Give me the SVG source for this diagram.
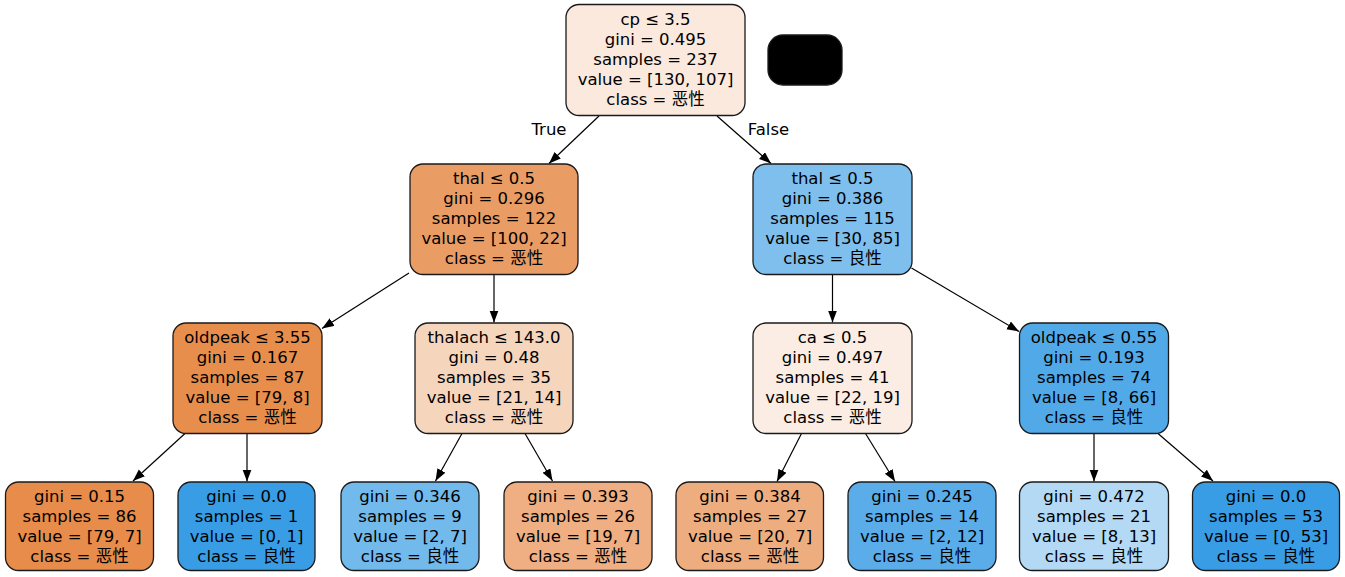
<svg xmlns="http://www.w3.org/2000/svg" width="1345" height="577" viewBox="0 0 1345 577">
<style>
.n rect{stroke:#1a1a1a;stroke-width:1.3}
text{font-family:"DejaVu Sans","Noto Sans CJK SC",sans-serif;font-size:16.5px;fill:#000;text-anchor:middle}
.e line{stroke:#000;stroke-width:1.2;marker-end:url(#ah)}
</style>
<defs>
<marker id="ah" markerUnits="userSpaceOnUse" markerWidth="13" markerHeight="10" refX="12" refY="4.5" orient="auto">
<path d="M0,0 L12,4.5 L0,9 z" fill="#000"/>
</marker>
</defs>
<rect width="1345" height="577" fill="#fff"/>
<g id="connectors" class="e">
<line x1="599" y1="116" x2="549" y2="163.5"/>
<line x1="717" y1="116" x2="771" y2="163.5"/>
<line x1="409" y1="273" x2="322" y2="328.5"/>
<line x1="494" y1="275" x2="494" y2="322.5"/>
<line x1="832.5" y1="275" x2="832.5" y2="322.5"/>
<line x1="911.5" y1="268" x2="1019" y2="331.5"/>
<line x1="185" y1="433.5" x2="133" y2="481"/>
<line x1="247" y1="433.5" x2="247" y2="481.5"/>
<line x1="462" y1="433.5" x2="435.5" y2="481"/>
<line x1="525" y1="433.5" x2="552.5" y2="481"/>
<line x1="801.5" y1="433.5" x2="777" y2="481.5"/>
<line x1="865.5" y1="433.5" x2="895" y2="481.5"/>
<line x1="1094" y1="433.5" x2="1094" y2="481.5"/>
<line x1="1158" y1="433.5" x2="1213" y2="481"/>
<text x="549" y="135">True</text>
<text x="768.5" y="135">False</text>
</g>
<g id="root" class="n">
<rect x="566" y="4.5" width="179" height="111" rx="13" fill="#fae9dc"/>
<text x="655.5" y="25">cp ≤ 3.5</text>
<text x="655.5" y="45">gini = 0.495</text>
<text x="655.5" y="65">samples = 237</text>
<text x="655.5" y="85">value = [130, 107]</text>
<text x="655.5" y="105">class = 恶性</text>
</g>
<g id="blank" class="n">
<rect x="768" y="35" width="74" height="50" rx="15" fill="#000" stroke="#000"/>
</g>
<g id="thal_left" class="n">
<rect x="410" y="164" width="168" height="110.5" rx="13" fill="#ea9c65"/>
<text x="494" y="184">thal ≤ 0.5</text>
<text x="494" y="204">gini = 0.296</text>
<text x="494" y="224">samples = 122</text>
<text x="494" y="244">value = [100, 22]</text>
<text x="494" y="264">class = 恶性</text>
</g>
<g id="thal_right" class="n">
<rect x="753" y="164" width="159" height="110.5" rx="13" fill="#7ebfee"/>
<text x="832.5" y="184">thal ≤ 0.5</text>
<text x="832.5" y="204">gini = 0.386</text>
<text x="832.5" y="224">samples = 115</text>
<text x="832.5" y="244">value = [30, 85]</text>
<text x="832.5" y="264">class = 良性</text>
</g>
<g id="oldpeak_left" class="n">
<rect x="173" y="323" width="149" height="110.5" rx="13" fill="#e88e4d"/>
<text x="247.5" y="343">oldpeak ≤ 3.55</text>
<text x="247.5" y="363">gini = 0.167</text>
<text x="247.5" y="383">samples = 87</text>
<text x="247.5" y="403">value = [79, 8]</text>
<text x="247.5" y="423">class = 恶性</text>
</g>
<g id="thalach" class="n">
<rect x="415" y="323" width="158" height="110.5" rx="13" fill="#f6d5bd"/>
<text x="494" y="343">thalach ≤ 143.0</text>
<text x="494" y="363">gini = 0.48</text>
<text x="494" y="383">samples = 35</text>
<text x="494" y="403">value = [21, 14]</text>
<text x="494" y="423">class = 恶性</text>
</g>
<g id="ca" class="n">
<rect x="753" y="323" width="159" height="110.5" rx="13" fill="#fbede3"/>
<text x="832.5" y="343">ca ≤ 0.5</text>
<text x="832.5" y="363">gini = 0.497</text>
<text x="832.5" y="383">samples = 41</text>
<text x="832.5" y="403">value = [22, 19]</text>
<text x="832.5" y="423">class = 恶性</text>
</g>
<g id="oldpeak_right" class="n">
<rect x="1019.5" y="323" width="149" height="110.5" rx="13" fill="#51a9e8"/>
<text x="1094" y="343">oldpeak ≤ 0.55</text>
<text x="1094" y="363">gini = 0.193</text>
<text x="1094" y="383">samples = 74</text>
<text x="1094" y="403">value = [8, 66]</text>
<text x="1094" y="423">class = 良性</text>
</g>
<g id="leaf1" class="n">
<rect x="5.5" y="482" width="148" height="88.5" rx="13" fill="#e78c4b"/>
<text x="79.5" y="502">gini = 0.15</text>
<text x="79.5" y="522">samples = 86</text>
<text x="79.5" y="542">value = [79, 7]</text>
<text x="79.5" y="562">class = 恶性</text>
</g>
<g id="leaf2" class="n">
<rect x="178" y="482" width="137" height="88.5" rx="13" fill="#399de5"/>
<text x="246.5" y="502">gini = 0.0</text>
<text x="246.5" y="522">samples = 1</text>
<text x="246.5" y="542">value = [0, 1]</text>
<text x="246.5" y="562">class = 良性</text>
</g>
<g id="leaf3" class="n">
<rect x="341" y="482" width="138" height="88.5" rx="13" fill="#72b9ec"/>
<text x="410" y="502">gini = 0.346</text>
<text x="410" y="522">samples = 9</text>
<text x="410" y="542">value = [2, 7]</text>
<text x="410" y="562">class = 良性</text>
</g>
<g id="leaf4" class="n">
<rect x="504" y="482" width="148" height="88.5" rx="13" fill="#efaf82"/>
<text x="578" y="502">gini = 0.393</text>
<text x="578" y="522">samples = 26</text>
<text x="578" y="542">value = [19, 7]</text>
<text x="578" y="562">class = 恶性</text>
</g>
<g id="leaf5" class="n">
<rect x="676" y="482" width="147.5" height="88.5" rx="13" fill="#eead7e"/>
<text x="750" y="502">gini = 0.384</text>
<text x="750" y="522">samples = 27</text>
<text x="750" y="542">value = [20, 7]</text>
<text x="750" y="562">class = 恶性</text>
</g>
<g id="leaf6" class="n">
<rect x="848" y="482" width="148" height="88.5" rx="13" fill="#5aade9"/>
<text x="922" y="502">gini = 0.245</text>
<text x="922" y="522">samples = 14</text>
<text x="922" y="542">value = [2, 12]</text>
<text x="922" y="562">class = 良性</text>
</g>
<g id="leaf7" class="n">
<rect x="1019.5" y="482" width="149" height="88.5" rx="13" fill="#b3d9f5"/>
<text x="1094" y="502">gini = 0.472</text>
<text x="1094" y="522">samples = 21</text>
<text x="1094" y="542">value = [8, 13]</text>
<text x="1094" y="562">class = 良性</text>
</g>
<g id="leaf8" class="n">
<rect x="1192.5" y="482" width="147" height="88.5" rx="13" fill="#399de5"/>
<text x="1266" y="502">gini = 0.0</text>
<text x="1266" y="522">samples = 53</text>
<text x="1266" y="542">value = [0, 53]</text>
<text x="1266" y="562">class = 良性</text>
</g>
</svg>
